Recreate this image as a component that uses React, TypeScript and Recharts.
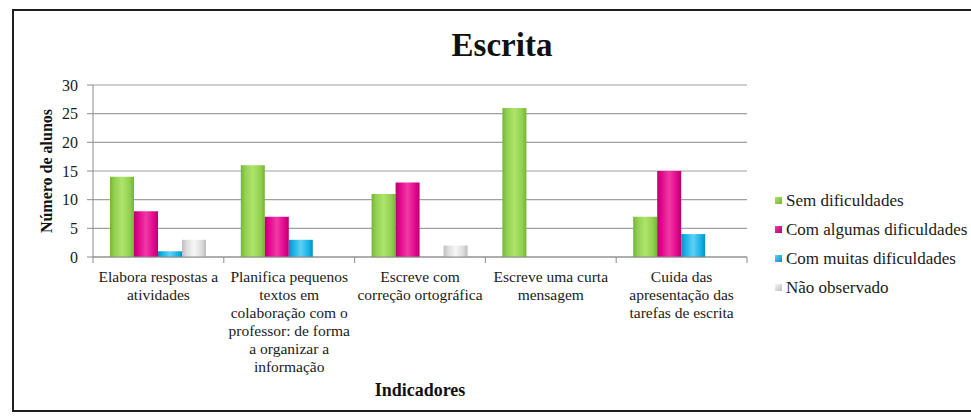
import { BarChart, Bar, XAxis, YAxis, CartesianGrid, Legend } from 'recharts';

const categories = [
  'Elabora respostas a\natividades',
  'Planifica pequenos\ntextos em\ncolaboração com o\nprofessor: de forma\na organizar a\ninformação',
  'Escreve com\ncorreção ortográfica',
  'Escreve uma curta\nmensagem',
  'Cuida das\napresentação das\ntarefas de escrita',
];

const semDificuldades = [14, 16, 11, 26, 7];
const comAlgumas = [8, 7, 13, 0, 15];
const comMuitas = [1, 3, 0, 0, 4];
const naoObservado = [3, 0, 2, 0, 0];

const yTicks = [0, 5, 10, 15, 20, 25, 30];

const SERIES = [
  { key: 'sem', name: 'Sem dificuldades', color: '#92d050', dark: '#74b436', light: '#aee46c' },
  { key: 'algumas', name: 'Com algumas dificuldades', color: '#e2068c', dark: '#b80070', light: '#f03aa6' },
  { key: 'muitas', name: 'Com muitas dificuldades', color: '#16b2e8', dark: '#0a8fc0', light: '#5fd0f4' },
  { key: 'nao', name: 'Não observado', color: '#dcdcdc', dark: '#bdbdbd', light: '#f6f6f6' },
];

const data = categories.map((name, i) => ({
  name,
  sem: semDificuldades[i],
  algumas: comAlgumas[i],
  muitas: comMuitas[i],
  nao: naoObservado[i],
}));

const FONT = "'Liberation Serif', Tinos, 'DejaVu Serif', serif";

const CategoryTick = (props: any) => {
  const { x, y, payload, index, visibleTicksCount } = props;
  const half = payload.offset || 0;
  const lines = String(payload.value).split('\n');
  return (
    <g>
      <line x1={x - half} y1={y - 8} x2={x - half} y2={y - 2} stroke="#8c8c8c" />
      {index === visibleTicksCount - 1 && (
        <line x1={x + half} y1={y - 8} x2={x + half} y2={y - 2} stroke="#8c8c8c" />
      )}
      <text x={x} y={y + 17} textAnchor="middle" style={{ fontFamily: FONT, fontSize: 15.5 }} fill="#1a1a1a">
        {lines.map((l, i) => (
          <tspan key={i} x={x} dy={i === 0 ? 0 : 18}>{l}</tspan>
        ))}
      </text>
    </g>
  );
};

// legend drawn straight from SERIES so the order stays as in the original
const renderLegend = () => (
  <div style={{ fontFamily: FONT, fontSize: 17, color: '#1a1a1a' }}>
    {SERIES.map((s) => (
      <div key={s.key} style={{ display: 'flex', alignItems: 'center', height: 29, whiteSpace: 'nowrap' }}>
        <span
          style={{
            display: 'inline-block',
            width: 7,
            height: 7,
            background: `linear-gradient(135deg, ${s.light}, ${s.dark})`,
            marginRight: 4,
          }}
        />
        <span>{s.name}</span>
      </div>
    ))}
  </div>
);

export default function App() {
  return (
    <div style={{ position: 'absolute', left: 0, top: 0, width: 971, height: 418, overflow: 'hidden', background: '#fff' }}>
      <div
        style={{
          position: 'absolute',
          left: 12,
          top: 9,
          width: 1000,
          height: 399,
          border: '2px solid #1e1e1e',
        }}
      />
      <div
        style={{
          position: 'absolute',
          left: 402,
          top: 25,
          width: 200,
          height: 40,
          lineHeight: '40px',
          textAlign: 'center',
          fontFamily: FONT,
          fontWeight: 'bold',
          fontSize: 33,
          color: '#111',
        }}
      >
        Escrita
      </div>
      <div style={{ position: 'absolute', left: 0, top: 0 }}>
        <BarChart
          width={971}
          height={418}
          data={data}
          margin={{ top: 85, right: 224, left: 63, bottom: 31 }}
          barCategoryGap={17}
          barGap={0}
        >
          <defs>
            {SERIES.map((s) => (
              <linearGradient key={s.key} id={`grad-${s.key}`} x1="0" y1="0" x2="1" y2="0">
                <stop offset="0%" stopColor={s.dark} />
                <stop offset="18%" stopColor={s.color} />
                <stop offset="50%" stopColor={s.light} />
                <stop offset="82%" stopColor={s.color} />
                <stop offset="100%" stopColor={s.dark} />
              </linearGradient>
            ))}
          </defs>
          <CartesianGrid vertical={false} stroke="#a0a0a0" strokeWidth={1.2} />
          <XAxis
            dataKey="name"
            height={130}
            interval={0}
            tickLine={false}
            axisLine={{ stroke: '#8c8c8c' }}
            tick={<CategoryTick />}
            label={{
              content: (p: any) => {
                const vb = p.viewBox;
                return (
                  <text
                    x={vb.x + vb.width / 2}
                    y={396}
                    textAnchor="middle"
                    style={{ fontFamily: FONT, fontWeight: 'bold', fontSize: 18 }}
                    fill="#111"
                  >
                    Indicadores
                  </text>
                );
              },
            }}
          />
          <YAxis
            width={30}
            domain={[0, 30]}
            ticks={yTicks}
            interval={0}
            tickSize={6}
            tickMargin={9}
            tickLine={{ stroke: '#8c8c8c' }}
            axisLine={{ stroke: '#8c8c8c' }}
            tick={{ fontSize: 16, fill: '#1a1a1a', style: { fontFamily: FONT } }}
            label={{
              content: (p: any) => {
                const vb = p.viewBox;
                const cx = vb.x - 17;
                const cy = vb.y + vb.height / 2;
                return (
                  <text
                    x={cx}
                    y={cy}
                    transform={`rotate(-90, ${cx}, ${cy})`}
                    textAnchor="middle"
                    dominantBaseline="central"
                    style={{ fontFamily: FONT, fontWeight: 'bold', fontSize: 16 }}
                    fill="#111"
                  >
                    Número de alunos
                  </text>
                );
              },
            }}
          />
          <Legend
            layout="vertical"
            align="center"
            verticalAlign="middle"
            wrapperStyle={{ left: 775, top: 186, width: 196 }}
            content={renderLegend}
          />
          {SERIES.map((s) => (
            <Bar
              key={s.key}
              dataKey={s.key}
              name={s.name}
              fill={`url(#grad-${s.key})`}
              isAnimationActive={false}
            />
          ))}
        </BarChart>
      </div>
    </div>
  );
}
